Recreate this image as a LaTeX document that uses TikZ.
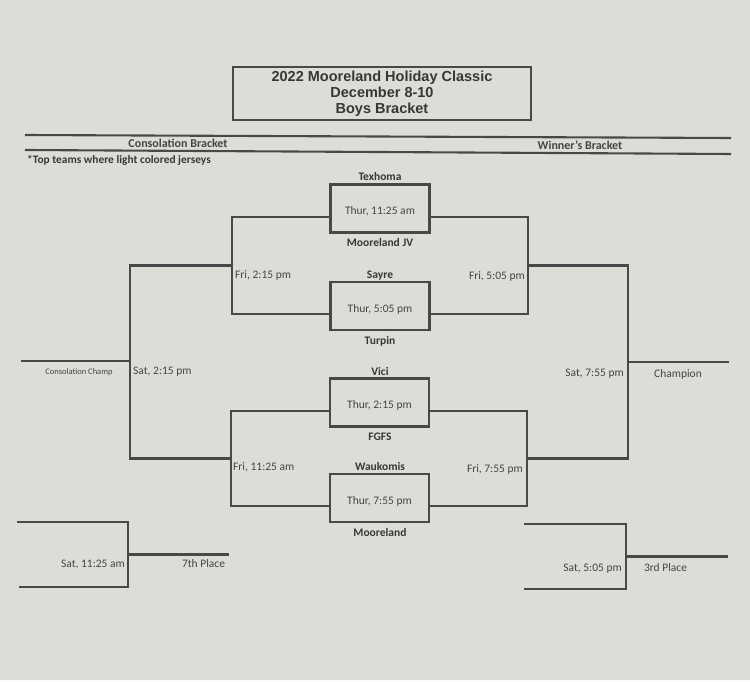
\documentclass[tikz,border=0pt]{standalone}
\usepackage{fontspec}
\setmainfont{Carlito}
\newfontfamily\arialf{Liberation Sans}
\definecolor{paper}{RGB}{221,221,216}
\definecolor{ink}{RGB}{72,72,72}
\definecolor{txt}{RGB}{68,68,68}
\definecolor{team}{RGB}{55,55,55}
\begin{document}
\begin{tikzpicture}[x=1pt,y=-1pt,
  line/.style={draw=ink,line width=2.1pt},
  game/.style={draw=ink,line width=2.1pt,minimum width=99pt,minimum height=48pt,inner sep=0pt,
    text height=12.4pt,text depth=0pt,font=\fontsize{11.5}{13}\selectfont,text=txt},
  lbl/.style={inner sep=0pt,text height=7pt,text depth=0pt},
  teamlbl/.style={lbl,font=\bfseries\fontsize{11.5}{13}\selectfont,text=team},
  timelbl/.style={lbl,font=\fontsize{11.5}{13}\selectfont,text=txt},
  headlbl/.style={lbl,font=\bfseries\fontsize{12}{14}\selectfont,text=txt}]
% paper
\fill[paper] (0,0) rectangle (750,682);
\fill[white!92!paper] (0,680) rectangle (750,682);
\useasboundingbox (0,0) rectangle (750,682);

% title
\node[draw=ink,line width=2.1pt,minimum width=298pt,minimum height=53pt,inner sep=0pt,
  align=center,text=team,font=\arialf\bfseries\fontsize{14.5}{16.2}\selectfont]
  (title) at (382,93.5) {\raisebox{0pt}[0pt][0pt]{}2022 Mooreland Holiday Classic\\December 8-10\\Boys Bracket};

% header rules
\draw[line] (25,135) -- (731,138);
\draw[line] (25,150) -- (731,154);
\node[headlbl] (cons) at (178,144) {Consolation Bracket};
\node[headlbl] (winb) at (580,146) {Winner's Bracket};
\node[lbl,anchor=west,font=\bfseries\fontsize{11.4}{13}\selectfont,text=team] (note) at (27,160) {*Top teams where light colored jerseys};

% first-round games
\node[game] (b1) at (380,208.5) {Thur, 11:25 am};
\node[game] (b2) at (380,306) {Thur, 5:05 pm};
\node[game] (b3) at (379.5,402.5) {Thur, 2:15 pm};
\node[game] (b4) at (379.5,498) {Thur, 7:55 pm};

% teams
\node[teamlbl] (t1) at (380,177) {Texhoma};
\node[teamlbl] (t2) at (380,243) {Mooreland JV};
\node[teamlbl] (t3) at (380,275) {Sayre};
\node[teamlbl] (t4) at (380,341) {Turpin};
\node[teamlbl] (t5) at (380,372) {Vici};
\node[teamlbl] (t6) at (380,437) {FGFS};
\node[teamlbl] (t7) at (380,467) {Waukomis};
\node[teamlbl] (t8) at (380,533) {Mooreland};

% consolation side
\coordinate (f1t) at (232,217);
\coordinate (f1b) at (232,314);
\coordinate (f1m) at (232,265.5);
\coordinate (f2t) at (231,411);
\coordinate (f2b) at (231,506);
\coordinate (f2m) at (231,458.5);
\coordinate (s1t) at (130,265.5);
\coordinate (s1b) at (130,458.5);
\coordinate (s1m) at (130,361);
\coordinate (cc) at (21,361);
\draw[line] (b1.west |- f1t) -- (f1t) -- (f1b) -- (b2.west |- f1b);
\draw[line] (b3.west |- f2t) -- (f2t) -- (f2b) -- (b4.west |- f2b);
\draw[line] (f1m) -- (s1t) -- (s1b) -- (f2m);
\draw[line] (s1m) -- (cc);
\node[timelbl,anchor=west] (lf1) at (235,275) {Fri, 2:15 pm};
\node[timelbl,anchor=west] (lf2) at (233,467) {Fri, 11:25 am};
\node[timelbl,anchor=west] (ls1) at (133,371) {Sat, 2:15 pm};
\node[lbl,font=\fontsize{8.5}{10}\selectfont,text=txt] (lcc) at (79,371) {Consolation Champ};

% winner's side
\coordinate (r1t) at (528,217);
\coordinate (r1b) at (528,314);
\coordinate (r1m) at (528,265.5);
\coordinate (r2t) at (527,411);
\coordinate (r2b) at (527,506);
\coordinate (r2m) at (527,458.5);
\coordinate (w1t) at (628,265.5);
\coordinate (w1b) at (628,458.5);
\coordinate (w1m) at (628,362);
\coordinate (ch) at (729,362);
\draw[line] (b1.east |- r1t) -- (r1t) -- (r1b) -- (b2.east |- r1b);
\draw[line] (b3.east |- r2t) -- (r2t) -- (r2b) -- (b4.east |- r2b);
\draw[line] (r1m) -- (w1t) -- (w1b) -- (r2m);
\draw[line] (w1m) -- (ch);
\node[timelbl,anchor=east] (lr1) at (525,276) {Fri, 5:05 pm};
\node[timelbl,anchor=east] (lr2) at (523,469) {Fri, 7:55 pm};
\node[timelbl,anchor=east] (lw1) at (624,373) {Sat, 7:55 pm};
\node[timelbl] (lch) at (678,374) {Champion};

% 7th place
\coordinate (a1) at (17,522);
\coordinate (a2) at (128,522);
\coordinate (a3) at (128,587);
\coordinate (a4) at (19,587);
\coordinate (a5) at (128,554.5);
\coordinate (a6) at (229,554.5);
\draw[line] (a1) -- (a2) -- (a3) -- (a4);
\draw[line] (a5) -- (a6);
\node[timelbl,anchor=east] (la) at (125,564) {Sat, 11:25 am};
\node[timelbl] (l7) at (203.5,564) {7th Place};

% 3rd place
\coordinate (c1) at (524,524);
\coordinate (c2) at (626,524);
\coordinate (c3) at (626,589);
\coordinate (c4) at (524,589);
\coordinate (c5) at (626,556.5);
\coordinate (c6) at (728,556.5);
\draw[line] (c1) -- (c2) -- (c3) -- (c4);
\draw[line] (c5) -- (c6);
\node[timelbl,anchor=east] (lc) at (622,568) {Sat, 5:05 pm};
\node[timelbl] (l3) at (665.5,568) {3rd Place};
\end{tikzpicture}
\end{document}
